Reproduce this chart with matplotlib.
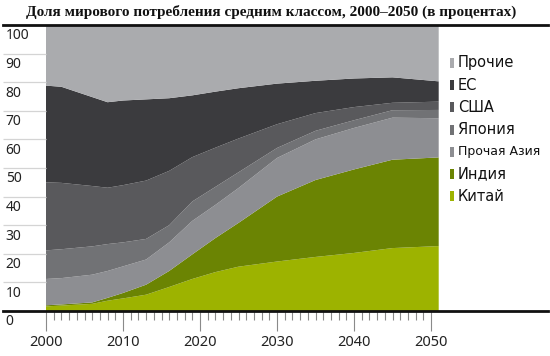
import matplotlib
matplotlib.use("Agg")
import matplotlib.pyplot as plt
from matplotlib.patches import Rectangle

# shares of world middle-class consumption, %
years = [2000, 2002, 2006, 2008, 2010, 2013, 2016, 2019, 2022, 2025, 2030, 2035, 2040, 2045, 2051]
china = [1.6, 1.9, 2.5, 3.6, 4.4, 5.7, 8.4, 11.2, 13.6, 15.5, 17.3, 18.9, 20.3, 22.0, 22.7]
india = [0.4, 0.4, 0.5, 1.0, 1.9, 3.5, 5.6, 8.6, 11.9, 15.3, 22.7, 26.9, 29.2, 30.9, 31.0]
other_asia = [9.2, 9.2, 9.7, 9.4, 9.3, 8.8, 10.0, 11.7, 11.6, 12.2, 13.5, 14.2, 14.5, 14.7, 13.7]
japan = [10.0, 10.1, 9.9, 9.4, 8.4, 7.2, 6.0, 6.8, 6.3, 5.5, 3.5, 3.0, 2.7, 2.6, 2.9]
usa = [23.8, 23.2, 21.1, 19.7, 20.0, 20.4, 19.0, 15.5, 13.7, 11.8, 8.3, 6.2, 4.6, 2.6, 2.9]
eu = [33.8, 33.6, 31.1, 29.9, 29.6, 28.4, 25.4, 21.6, 19.6, 17.6, 14.2, 11.3, 10.0, 8.9, 7.1]
others = [21.2, 21.6, 25.2, 27.0, 26.4, 26.0, 25.6, 24.6, 23.3, 22.1, 20.5, 19.5, 18.7, 18.3, 19.7]

labels = ["Китай", "Индия", "Прочая Азия", "Япония", "США", "ЕС", "Прочие"]
colors = ["#9db300", "#6b8403", "#8d8e92", "#717275", "#59595c", "#3b3b3e", "#aaabae"]

y_ticks = [0, 10, 20, 30, 40, 50, 60, 70, 80, 90, 100]
x_ticks = [2000, 2010, 2020, 2030, 2040, 2050]

title = "Доля мирового потребления средним классом, 2000–2050 (в процентах)"

W, H = 550, 356
fig = plt.figure(figsize=(W / 100, H / 100), dpi=100)

# axes in pixel terms: spans whole width so the black rules run edge to edge
left_px, right_px, top_px, bottom_px = 3, 548, 25, 311
x0_px, px_per_year = 46, 7.7
ax = fig.add_axes([left_px / W, 1 - bottom_px / H,
                   (right_px - left_px) / W, (bottom_px - top_px) / H])
x_lo = 2000 - (x0_px - left_px) / px_per_year
x_hi = 2000 + (right_px - x0_px) / px_per_year
ax.set_xlim(x_lo, x_hi)
ax.set_ylim(0, 100)

ax.stackplot(years, china, india, other_asia, japan, usa, eu, others,
             colors=colors, linewidth=0, edgecolor="none")

# light grid only in the label strip on the left
ax.hlines(y_ticks[1:-1], x_lo, 2000, color="#d4d4d4", linewidth=0.9)

for s in ["left", "right"]:
    ax.spines[s].set_visible(False)
for s in ["top", "bottom"]:
    ax.spines[s].set_color("#111111")
    ax.spines[s].set_linewidth(2)
    ax.spines[s].set_zorder(5)

ax.set_yticks([])
ax.set_xticks(x_ticks)
ax.set_xticks(range(2001, 2050), minor=True)
ax.tick_params(axis="x", which="major", length=14.5, width=0.8, color="#8a8a8a",
               pad=3, labelsize=10.5)
ax.tick_params(axis="x", which="minor", length=6.5, width=0.8, color="#8a8a8a")
for lbl in ax.get_xticklabels():
    lbl.set_fontfamily("Noto Sans")
    lbl.set_color("#222222")

# y labels sit just under their value line
ytr = ax.get_yaxis_transform()
for v in y_ticks:
    ax.text(0.005, v - 1.2, str(v), transform=ytr, ha="left", va="top",
            fontsize=10, family="Noto Sans", color="#222222", clip_on=False)

fig.text(0.493, 1 - 12 / H, title, ha="center", va="center",
         family="Liberation Serif", fontweight="bold", fontsize=11, color="#111111")

# legend on the right, top entry = top band
leg_y0, leg_dy = 63, 22.2
for i, (lab, col) in enumerate(zip(labels[::-1], colors[::-1])):
    yc = leg_y0 + i * leg_dy
    fig.add_artist(Rectangle((450 / W, 1 - (yc + 5) / H), 4 / W, 10 / H,
                             transform=fig.transFigure, facecolor=col, edgecolor="none"))
    fs = 9 if lab == "Прочая Азия" else 10.5
    fig.text(458 / W, 1 - yc / H, lab, ha="left", va="center",
             family="DejaVu Sans", fontsize=fs, color="#111111")

fig.savefig("out.png", dpi=100)
